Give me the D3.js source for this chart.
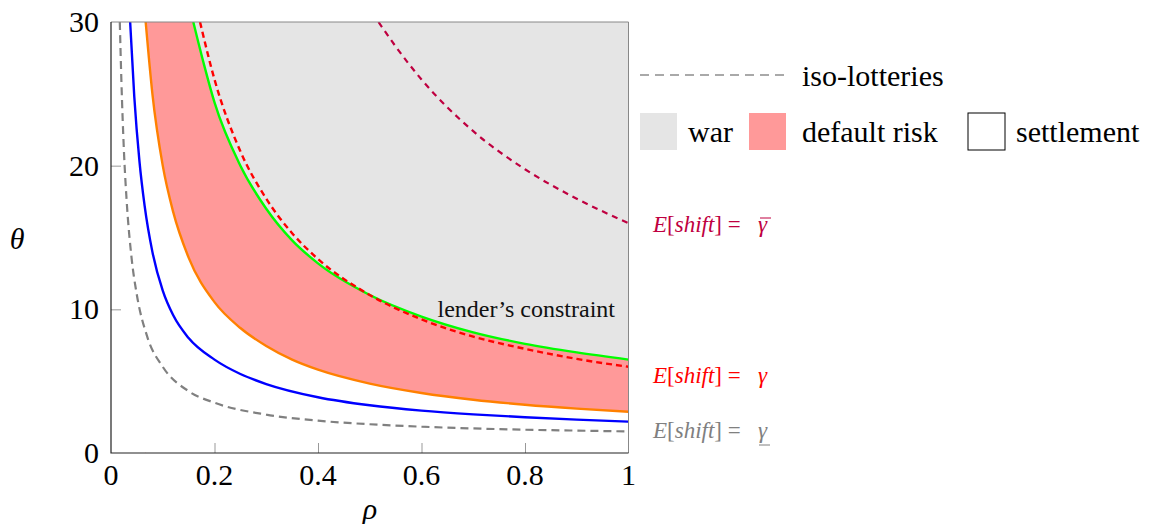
<!DOCTYPE html>
<html>
<head>
<meta charset="utf-8">
<script src="https://cdn.jsdelivr.net/npm/d3@7"></script>
</head>
<body style="margin:0">
<svg id="chart" width="1172" height="524"></svg>
<script>
// values: [rho, theta]
const isoLow = [[0.017,30],[0.02,26],[0.025,21],[0.03,17.7],[0.04,13.5],[0.05,11],[0.07,8.1],[0.1,6],[0.15,4.3],[0.2,3.5],[0.3,2.67],[0.4,2.25],[0.5,2],[0.6,1.83],[0.7,1.71],[0.8,1.62],[0.9,1.56],[1,1.5]];
const isoMid = [[0.172,30],[0.2,26],[0.25,21],[0.3,17.7],[0.35,15.3],[0.4,13.5],[0.5,11],[0.6,9.3],[0.7,8.1],[0.8,7.25],[0.9,6.55],[1,6]];
const isoHigh = [[0.517,30],[0.55,28.3],[0.6,26],[0.7,22.4],[0.8,19.75],[0.9,17.7],[1,16]];
const blueCurve = [[0.037,30],[0.045,24.8],[0.055,20.3],[0.065,17.2],[0.08,14],[0.1,11.3],[0.12,9.6],[0.15,8],[0.2,6.5],[0.25,5.5],[0.3,4.8],[0.4,3.88],[0.5,3.32],[0.6,2.95],[0.7,2.69],[0.8,2.49],[0.9,2.32],[1,2.18]];
const orangeCurve = [[0.067,30],[0.08,25],[0.1,20],[0.12,16.8],[0.15,13.6],[0.2,10.5],[0.25,8.7],[0.3,7.45],[0.35,6.5],[0.4,5.8],[0.5,4.83],[0.6,4.18],[0.7,3.71],[0.8,3.36],[0.9,3.09],[1,2.87]];
const lenderCurve = [[0.159,30],[0.18,27],[0.2,24.4],[0.25,20],[0.3,17],[0.35,14.8],[0.4,13.2],[0.5,11],[0.6,9.5],[0.7,8.4],[0.8,7.6],[0.9,7],[1,6.5]];

const rhoTicks = [0, 0.2, 0.4, 0.6, 0.8, 1];
const thetaTicks = [0, 10, 20, 30];
const regionLabels = ["war", "default risk", "settlement"];
const isoLabel = "iso-lotteries";

const svg = d3.select("#chart");
const x = d3.scaleLinear().domain([0, 1]).range([111, 628.5]);
const y = d3.scaleLinear().domain([0, 30]).range([453, 22]);

svg.append("defs").append("clipPath").attr("id", "plotclip").append("rect")
  .attr("x", x(0)).attr("y", y(30)).attr("width", x(1) - x(0)).attr("height", y(0) - y(30));

const plot = svg.append("g").attr("clip-path", "url(#plotclip)");
const line = d3.line().x(d => x(d[0])).y(d => y(d[1])).curve(d3.curveMonotoneX);
const area = d3.area().x(d => x(d[0])).y0(y(0)).y1(d => y(d[1])).curve(d3.curveMonotoneX);

// war everywhere, then default risk under the lender's constraint, then settlement under orange
plot.append("rect").attr("x", x(0)).attr("y", y(30)).attr("width", x(1) - x(0)).attr("height", y(0) - y(30)).attr("fill", "#e5e5e5");
const leftBlock = (r) => `M${x(0)},${y(30)}H${x(r)}V${y(0)}H${x(0)}Z`;
plot.append("path").attr("d", leftBlock(lenderCurve[0][0]) + area(lenderCurve)).attr("fill", "#ff9999");
plot.append("path").attr("d", leftBlock(orangeCurve[0][0]) + area(orangeCurve)).attr("fill", "#ffffff");

const curves = [
  { pts: isoLow, color: "#808080", dash: "8,5", w: 2.2 },
  { pts: blueCurve, color: "#0000ff", dash: null, w: 2.4 },
  { pts: orangeCurve, color: "#ff8000", dash: null, w: 2.4 },
  { pts: lenderCurve, color: "#00ff00", dash: null, w: 2.4 },
  { pts: isoMid, color: "#ff0000", dash: "6,4", w: 2.4 },
  { pts: isoHigh, color: "#bf0040", dash: "6,5", w: 2.2 }
];
curves.forEach(c => {
  plot.append("path").attr("d", line(c.pts)).attr("fill", "none")
    .attr("stroke", c.color).attr("stroke-width", c.w)
    .attr("stroke-dasharray", c.dash);
});

// inner ticks only; labels are plain text further down
const xAxis = svg.append("g").attr("transform", `translate(0,${y(0)})`)
  .call(d3.axisBottom(x).tickValues(rhoTicks).tickSizeInner(-10).tickSizeOuter(0).tickFormat(""));
xAxis.attr("font-family", null).attr("font-size", null);
xAxis.select(".domain").remove();
xAxis.selectAll(".tick text").remove();
xAxis.selectAll(".tick line").attr("stroke", "#999").attr("opacity", d => (d === 0 || d === 1) ? 0 : 1);

const yAxis = svg.append("g").attr("transform", `translate(${x(0)},0)`)
  .call(d3.axisLeft(y).tickValues(thetaTicks).tickSizeInner(-10).tickSizeOuter(0).tickFormat(""));
yAxis.attr("font-family", null).attr("font-size", null);
yAxis.select(".domain").remove();
yAxis.selectAll(".tick text").remove();
yAxis.selectAll(".tick line").attr("stroke", "#999").attr("opacity", d => (d === 0 || d === 30) ? 0 : 1);

// frame
svg.append("path").attr("d", `M${x(0)},${y(30)}H${x(1)}V${y(0)}`).attr("fill", "none").attr("stroke", "#888").attr("stroke-width", 1);
svg.append("path").attr("d", `M${x(0)},${y(30)}V${y(0)}H${x(1)}`).attr("fill", "none").attr("stroke", "#222").attr("stroke-width", 1.2);

// legend marks
svg.append("line").attr("x1", 640).attr("x2", 790).attr("y1", 75).attr("y2", 75)
  .attr("stroke", "#555").attr("stroke-width", 1.2).attr("stroke-dasharray", "9,6");
const swatchX = [640, 749, 968];
const swatchFill = ["#e5e5e5", "#ff9999", "#ffffff"];
const labelX = [688, 802, 1016];
regionLabels.forEach((lab, i) => {
  svg.append("rect").attr("x", swatchX[i]).attr("y", 113).attr("width", 37).attr("height", 37)
    .attr("fill", swatchFill[i]).attr("stroke", i === 2 ? "#000" : "none").attr("stroke-width", 1);
});

// bars over / under gamma
const gammaX = 758;
svg.append("line").attr("x1", gammaX + 2).attr("x2", gammaX + 13).attr("y1", 218).attr("y2", 218)
  .attr("stroke", "#bf0040").attr("stroke-width", 1);
svg.append("line").attr("x1", gammaX + 1).attr("x2", gammaX + 12).attr("y1", 445).attr("y2", 445)
  .attr("stroke", "#808080").attr("stroke-width", 1);

// all text last, each with its own serif family
function label(tx, ty, str, size, anchor, fill, italic) {
  const t = svg.append("text").attr("x", tx).attr("y", ty).attr("font-size", size)
    .style("font-family", '"Liberation Serif"');
  if (anchor) t.style("text-anchor", anchor);
  if (fill) t.style("fill", fill);
  if (italic) t.style("font-style", "italic");
  t.text(str);
  return t;
}
rhoTicks.forEach(d => label(x(d), 485, String(d), 30, "middle"));
thetaTicks.forEach(d => label(99, y(d) + 10, String(d), 30, "end"));
label(370, 519, "ρ", 30, "middle", null, true);
label(17, 249, "θ", 30, "middle", null, true);
label(615, 317, "lender’s constraint", 24, "end", "#111");
label(802, 86, isoLabel, 30);
regionLabels.forEach((lab, i) => label(labelX[i], 142, lab, 30));

function shiftLabel(yb, color) {
  const t = svg.append("text").attr("x", 653).attr("y", yb).attr("font-size", 23)
    .style("font-family", '"Liberation Serif"').style("fill", color);
  t.append("tspan").style("font-style", "italic").text("E");
  t.append("tspan").text("[");
  t.append("tspan").style("font-style", "italic").text("shift");
  t.append("tspan").text("] =");
  svg.append("text").attr("x", gammaX).attr("y", yb).attr("font-size", 23)
    .style("font-family", '"Liberation Serif"').style("fill", color).style("font-style", "italic")
    .text("γ");
}
shiftLabel(232, "#bf0040");
shiftLabel(383, "#ff0000");
shiftLabel(438, "#808080");
</script>
</body>
</html>
